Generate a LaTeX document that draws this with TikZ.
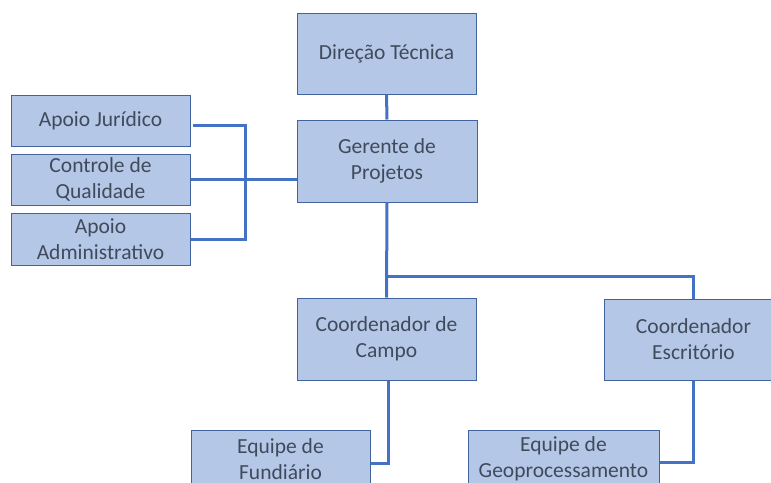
\documentclass[tikz,border=0pt]{standalone}
\usepackage{fontspec}
\setmainfont{Carlito}
\usetikzlibrary{calc}
\definecolor{boxfill}{HTML}{B4C7E7}
\definecolor{boxline}{HTML}{41639E}
\definecolor{linkline}{HTML}{4472C4}
\definecolor{boxtext}{HTML}{3F4B5B}
\tikzset{
  orgbox/.style={draw=boxline,fill=boxfill,line width=1pt,inner sep=0pt,
    align=center,text=boxtext,font=\fontsize{21.5}{26}\selectfont,
    minimum width=179pt,minimum height=#1},
  orgbox/.default=81pt,
  link/.style={draw=linkline,line width=3pt}
}
\begin{document}
\begin{tikzpicture}[x=1pt,y=-1pt]
\useasboundingbox (0,0) rectangle (771,482);
\clip (0,0) rectangle (771,482);
% top of the chart
\node[orgbox] (Direcao) at (386.5,53.5) {Direção Técnica};
\node[orgbox=82pt,minimum width=180pt] (Gerente) at (387,161) {Gerente de\\Projetos};
% support boxes
\node[orgbox=51pt] (Juridico) at (100.5,120.5) {Apoio Jurídico};
\node[orgbox=51pt] (Controle) at (100.5,179.5) {Controle de\\Qualidade};
\node[orgbox=52pt] (Admin) at (100.5,239) {Apoio\\Administrativo};
% coordinators and teams
\node[orgbox=82pt] (Campo) at (386.5,339) {Coordenador de\\Campo};
\node[orgbox] (Escritorio) at (693.5,339.5) {Coordenador\\Escritório};
\node[orgbox=58pt] (Fundiario) at (280.5,459) {Equipe de\\Fundiário};
\node[orgbox=58pt,minimum width=191pt] (Geo) at (563.5,459) {Equipe de\\Geoprocessamento};
\coordinate (bus) at (387,276);
\coordinate (brk) at (245,179);
\draw[link] (Direcao.south) -- (Gerente.north);
\draw[link] (Gerente.south) -- (Campo.north);
\draw[link] (bus) -| (Escritorio.north);
\draw[link] ([shift={(2,5)}]Juridico.east) -| (brk |- Admin.east) -- (Admin.east);
\draw[link] (Controle.east) -- (Controle.east -| Gerente.west);
\draw[link] ([xshift=2pt]Campo.south) |- ([yshift=-4pt]Fundiario.east);
\draw[link] (Escritorio.south) |- ([yshift=-3pt]Geo.east);
\end{tikzpicture}
\end{document}
